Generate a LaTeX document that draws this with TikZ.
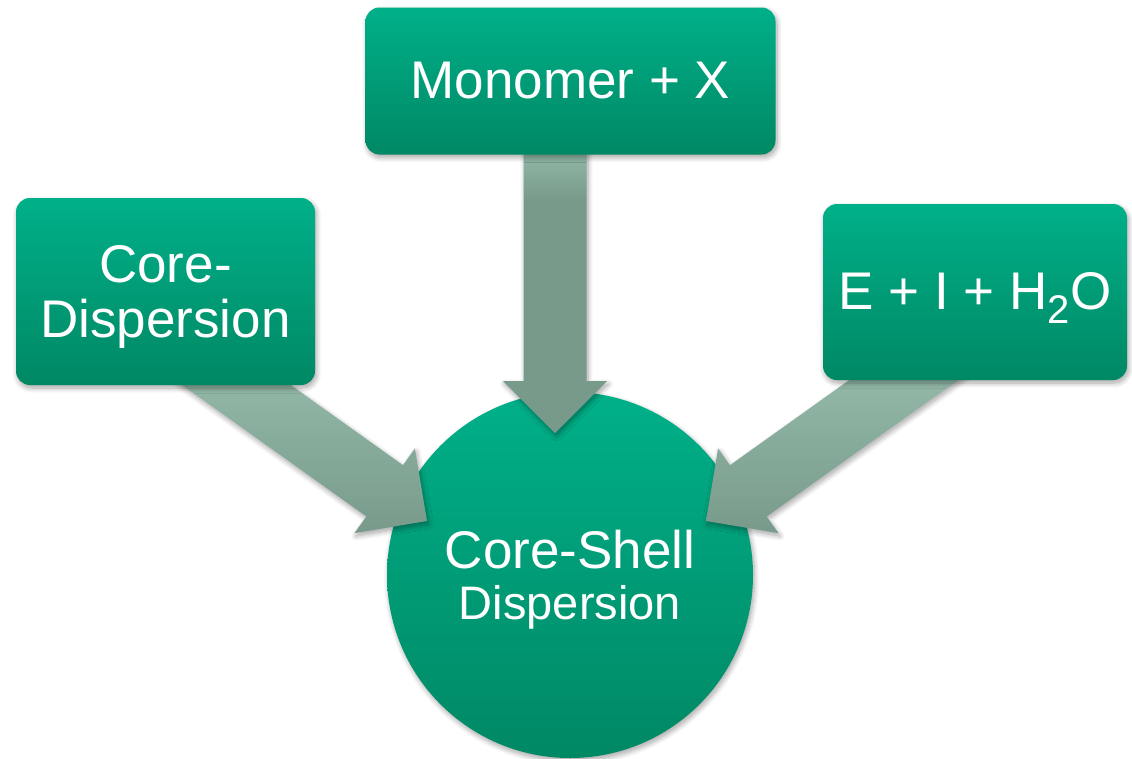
\documentclass[tikz,border=0pt]{standalone}
\usepackage{fontspec}
\setmainfont{Liberation Sans}
\usetikzlibrary{calc,shadows.blur}

\definecolor{boxtop}{RGB}{0,176,137}
\definecolor{boxbot}{RGB}{0,136,100}
\definecolor{arrtop}{RGB}{157,196,178}
\definecolor{arrbot}{RGB}{120,154,139}
\definecolor{stemtop}{RGB}{146,184,167}

% the vertical stream is a flat tone that only lightens just under its box
\pgfdeclareverticalshading{stemfade}{100bp}{color(0bp)=(arrbot);
  color(60bp)=(arrbot); color(67bp)=(stemtop); color(100bp)=(stemtop)}

\tikzset{
  softshadow/.style={blur shadow={shadow xshift=1.5pt, shadow yshift=-3pt,
      shadow blur radius=5pt, shadow blur steps=8, shadow opacity=35}},
  greenbox/.style={rectangle, rounded corners=14pt, top color=boxtop,
      bottom color=boxbot, draw=none, text=white, align=center,
      inner sep=0pt, softshadow},
  greenball/.style={circle, top color=boxtop, bottom color=boxbot,
      draw=none, text=white, align=center, inner sep=0pt, softshadow},
  arrowbody/.style={top color=arrtop, bottom color=arrbot, draw=none,
      softshadow},
  stembody/.style={shading=stemfade, draw=none, softshadow},
}

% block arrow from tail #2 to tip #3 (style #1): shaft 63, head 104 wide, 52 long
\newcommand\flowarrow[3]{%
  \coordinate (hb) at ($(#3)!52pt!(#2)$);
  \path[#1]
    ($(#2)!31.5pt!90:(#3)$) -- ($(hb)!31.5pt!90:(#3)$)
    -- ($(hb)!52pt!90:(#3)$) -- (#3)
    -- ($(hb)!52pt!-90:(#3)$) -- ($(hb)!31.5pt!-90:(#3)$)
    -- ($(#2)!31.5pt!-90:(#3)$) -- cycle;}

\begin{document}
\begin{tikzpicture}[x=1pt,y=-1pt]
  \useasboundingbox (0,0) rectangle (1132,758);

  % product
  \node[greenball, minimum size=366pt,
        font=\fontsize{53}{51}\selectfont] (shell) at (570,575)
        {\rule{0pt}{47pt}Core-Shell\\{\fontsize{47}{51}\selectfont Dispersion}};

  % feed streams
  \coordinate (tTop)   at (555,100);
  \coordinate (pTop)   at (555,433);
  \coordinate (tLeft)  at (173.4,340);
  \coordinate (pLeft)  at (427,521);
  \coordinate (tRight) at (959.6,340);
  \coordinate (pRight) at (706,521);

  \flowarrow{stembody}{tTop}{pTop}
  \flowarrow{arrowbody}{tLeft}{pLeft}
  \flowarrow{arrowbody}{tRight}{pRight}

  % inputs
  \node[greenbox, minimum width=410pt, minimum height=147pt,
        font=\fontsize{53}{55}\selectfont] (mono) at (570.5,81)
        {Monomer + X};
  \node[greenbox, minimum width=299pt, minimum height=187pt,
        font=\fontsize{53}{55}\selectfont] (core) at (165.5,291.5)
        {\rule{0pt}{47pt}Core-\\Dispersion};
  \node[greenbox, minimum width=304pt, minimum height=176pt,
        font=\fontsize{53}{55}\selectfont] (eih) at (975,292)
        {\rule{0pt}{48pt}E + I + H\raisebox{-14pt}{\fontsize{40}{40}\selectfont 2}O};
\end{tikzpicture}
\end{document}
